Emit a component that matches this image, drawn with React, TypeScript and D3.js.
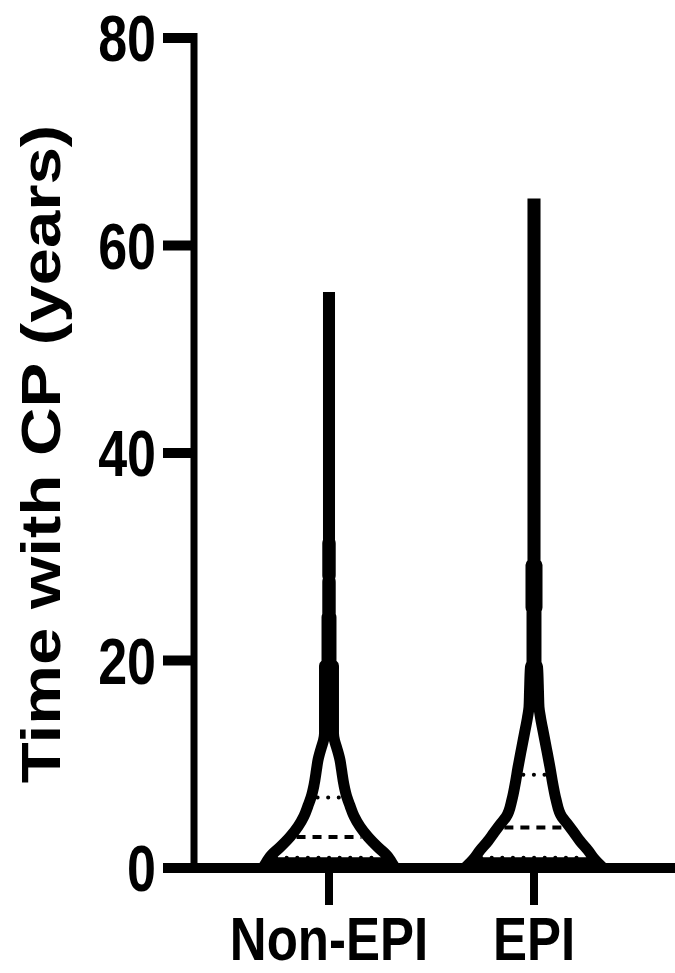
import React from 'react';
import * as d3 from 'd3';

const categories = ['Non-EPI', 'EPI'];
const yTicks = [0, 20, 40, 60, 80];
const yTitle = 'Time with CP (years)';

// violin outlines: [value (years), relative density]
const nonEpiDensity: [number, number][] = [
  [0.5, 0.984], [0.8, 0.953], [1.2, 0.906], [2, 0.766], [3, 0.609], [4, 0.484],
  [5, 0.391], [6, 0.328], [6.8, 0.281], [8, 0.234], [9.5, 0.195], [10.4, 0.172],
  [11.5, 0.125], [12.3, 0.086], [13, 0.07], [19.5, 0.07], [19.8, 0.031], [24.2, 0.031],
  [24.4, 0.019], [27.6, 0.019], [27.9, 0.008], [28.2, 0.019], [31.3, 0.019],
  [31.6, 0.008], [55, 0.008],
];
const epiDensity: [number, number][] = [
  [0.5, 1.0], [0.8, 0.953], [1.7, 0.844], [2.6, 0.719], [3.4, 0.625], [4.3, 0.516],
  [4.9, 0.438], [6.6, 0.344], [8, 0.297], [9.7, 0.25], [11.5, 0.195], [13, 0.148],
  [14.5, 0.102], [15.5, 0.078], [17, 0.07], [19.4, 0.055], [19.8, 0.031], [24.9, 0.031],
  [25.1, 0.047], [29.2, 0.047], [29.5, 0.016], [64, 0.016],
];
// [Q1, median, Q3]
const nonEpiQuartiles = [1.0, 3.0, 6.8];
const epiQuartiles = [1.0, 3.9, 9.0];

const densities = [nonEpiDensity, epiDensity];
const quartiles = [nonEpiQuartiles, epiQuartiles];

const W = 675;
const H = 973;
const FONT = '"Liberation Sans", Arial, Helvetica, sans-serif';

export default function App() {
  const y = d3.scaleLinear().domain([0, 80]).range([868, 38]);
  const x = d3.scalePoint<string>().domain(categories).range([329, 534]);
  const w = d3.scaleLinear().domain([0, 1]).range([0, 64]);
  const axisX = 194;
  const axisLeft = 163;
  const violinStroke = 11;

  const interp = (dens: [number, number][], v: number) => {
    const vs = dens.map((d) => d[0]);
    const i = d3.bisectLeft(vs, v);
    if (i <= 0) return dens[0][1];
    if (i >= dens.length) return dens[dens.length - 1][1];
    const [v0, d0] = dens[i - 1];
    const [v1, d1] = dens[i];
    return d0 + ((v - v0) / (v1 - v0)) * (d1 - d0);
  };

  return (
    <svg
      width={W}
      height={H}
      style={{ position: 'absolute', left: 0, top: 0, background: '#fff' }}
      fontFamily={FONT}
    >
      <rect width={W} height={H} fill="#fff" />
      {/* violins */}
      {categories.map((c, ci) => {
        const cx = x(c)!;
        const area = d3
          .area<[number, number]>()
          .y((d) => y(d[0]))
          .x0((d) => cx - w(d[1]))
          .x1((d) => cx + w(d[1]))
          .curve(d3.curveMonotoneY);
        const q = quartiles[ci];
        return (
          <g key={c}>
            <path d={area(densities[ci]) || ''} fill="#fff" stroke="#000" strokeWidth={violinStroke} strokeLinejoin="miter" />
            {q.map((qv, qi) => {
              const half = Math.max(0, w(interp(densities[ci], qv)) - violinStroke / 2 - 1);
              const isMedian = qi === 1;
              return (
                <line
                  key={qi}
                  x1={cx - half}
                  x2={cx + half}
                  y1={y(qv)}
                  y2={y(qv)}
                  stroke="#000"
                  strokeWidth={4}
                  strokeDasharray={isMedian ? '9 7' : '0.1 10.5'}
                  strokeLinecap={isMedian ? 'butt' : 'round'}
                />
              );
            })}
          </g>
        );
      })}
      {/* y axis */}
      <line x1={axisX} x2={axisX} y1={y(80) - 5} y2={y(0)} stroke="#000" strokeWidth={7} />
      {yTicks.map((t) => (
        <g key={t}>
          <line x1={axisLeft} x2={axisX + 3} y1={y(t)} y2={y(t)} stroke="#000" strokeWidth={10} />
          <g transform={`translate(156,${y(t)}) scale(1,1.25)`}>
            <text textAnchor="end" dy="0.36em" fontSize={52} fontWeight="bold" fill="#000">
              {t}
            </text>
          </g>
        </g>
      ))}
      {/* x axis */}
      <line x1={axisLeft} x2={W} y1={y(0)} y2={y(0)} stroke="#000" strokeWidth={10} />
      {categories.map((c) => (
        <g key={c}>
          <line x1={x(c)!} x2={x(c)!} y1={y(0) + 4} y2={905} stroke="#000" strokeWidth={8} />
          <g transform={`translate(${x(c)!},960) scale(1,1.2)`}>
            <text textAnchor="middle" fontSize={51} fontWeight="bold" fill="#000">
              {c}
            </text>
          </g>
        </g>
      ))}
      {/* y title */}
      <g transform={`translate(60,454) rotate(-90) scale(1.2,1)`}>
        <text textAnchor="middle" fontSize={56} fontWeight="bold" fill="#000">
          {yTitle}
        </text>
      </g>
    </svg>
  );
}
